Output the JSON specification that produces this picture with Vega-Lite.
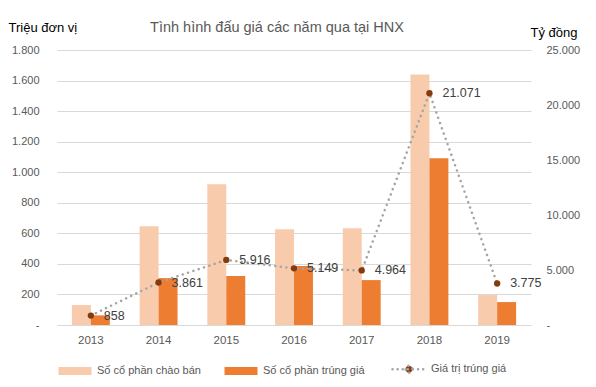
{
  "$schema": "https://vega.github.io/schema/vega-lite/v6.json",
  "autosize": "none",
  "width": 474,
  "height": 275,
  "padding": {"left": 57, "top": 50, "right": 65, "bottom": 62},
  "background": "white",
  "config": {
    "font": "Liberation Sans",
    "locale": {"number": {"decimal": ",", "thousands": ".", "grouping": [3], "currency": ["", ""]}},
    "view": {"stroke": null},
    "axis": {"labelFont": "Liberation Sans", "labelColor": "#595959", "labelFontSize": 11, "titleFont": "Liberation Sans"}
  },
  "title": {
    "text": "Tình hình đấu giá các năm qua tại HNX",
    "fontSize": 14.5,
    "fontWeight": "normal",
    "color": "#595959",
    "anchor": "middle",
    "frame": "group",
    "dx": -17,
    "offset": -14
  },
  "data": {
    "values": [
      {"year": "2013", "Số cổ phần chào bán": 131, "Số cổ phần trúng giá": 63, "gia_tri": 858},
      {"year": "2014", "Số cổ phần chào bán": 647, "Số cổ phần trúng giá": 307, "gia_tri": 3861},
      {"year": "2015", "Số cổ phần chào bán": 921, "Số cổ phần trúng giá": 320, "gia_tri": 5916},
      {"year": "2016", "Số cổ phần chào bán": 627, "Số cổ phần trúng giá": 386, "gia_tri": 5149},
      {"year": "2017", "Số cổ phần chào bán": 634, "Số cổ phần trúng giá": 294, "gia_tri": 4964},
      {"year": "2018", "Số cổ phần chào bán": 1640, "Số cổ phần trúng giá": 1092, "gia_tri": 21071},
      {"year": "2019", "Số cổ phần chào bán": 196, "Số cổ phần trúng giá": 150, "gia_tri": 3775}
    ]
  },
  "encoding": {
    "x": {
      "field": "year",
      "type": "nominal",
      "scale": {"paddingInner": 0.44, "paddingOuter": 0.22},
      "axis": {"title": null, "labelAngle": 0, "domain": false, "ticks": false, "labelPadding": 9, "labelFontSize": 11.5}
    }
  },
  "layer": [
    {
      "transform": [{"fold": ["Số cổ phần chào bán", "Số cổ phần trúng giá"], "as": ["series", "value"]}],
      "mark": {"type": "bar"},
      "encoding": {
        "xOffset": {"field": "series", "type": "nominal", "scale": {"paddingInner": 0, "paddingOuter": 0}},
        "y": {
          "field": "value",
          "type": "quantitative",
          "scale": {"domain": [0, 1800]},
          "axis": {
            "title": "Triệu đơn vị",
            "titleAngle": 0,
            "titleAlign": "left",
            "titleBaseline": "alphabetic",
            "titleX": -49,
            "titleY": -19,
            "titleFontSize": 13,
            "titleFontWeight": "normal",
            "titleColor": "#000000",
            "values": [0, 200, 400, 600, 800, 1000, 1200, 1400, 1600, 1800],
            "format": ",d",
            "labelExpr": "datum.value == 0 ? '-' : datum.label",
            "domain": false,
            "ticks": false,
            "labelPadding": 18,
            "gridColor": "#D9D9D9",
            "gridWidth": 1
          }
        },
        "color": {
          "field": "series",
          "type": "nominal",
          "scale": {
            "domain": ["Số cổ phần chào bán", "Số cổ phần trúng giá", "Giá trị trúng giá"],
            "range": ["#F8CBAD", "#ED7D31", "#843C0C"]
          },
          "legend": {
            "title": null,
            "orient": "bottom",
            "direction": "horizontal",
            "offset": 5,
            "columnPadding": 22,
            "labelFontSize": 11,
            "labelColor": "#595959",
            "labelFont": "Liberation Sans",
            "labelLimit": 200,
            "symbolSize": 1089,
            "symbolOpacity": 1,
            "encode": {
              "symbols": {
                "update": {
                  "shape": {"signal": "datum.value === 'Giá trị trúng giá' ? 'M-1,0H1M0.21,0A0.21,0.21,0,1,1,-0.21,0A0.21,0.21,0,1,1,0.21,0' : 'M-1,-0.24H1V0.24H-1Z'"},
                  "stroke": {"signal": "datum.value === 'Giá trị trúng giá' ? '#A5A5A5' : null"},
                  "strokeWidth": {"value": 2.5},
                  "strokeDash": {"value": [0.1, 5]},
                  "strokeCap": {"value": "round"}
                }
              }
            }
          }
        }
      }
    },
    {
      "encoding": {
        "y": {
          "field": "gia_tri",
          "type": "quantitative",
          "scale": {"domain": [0, 25000]},
          "axis": {
            "orient": "right",
            "title": "Tỷ đồng",
            "titleAngle": 0,
            "titleAlign": "left",
            "titleBaseline": "alphabetic",
            "titleX": -1,
            "titleY": -14,
            "titleFontSize": 13,
            "titleFontWeight": "normal",
            "titleColor": "#000000",
            "values": [0, 5000, 10000, 15000, 20000, 25000],
            "format": ",d",
            "labelExpr": "datum.value == 0 ? '-' : datum.label",
            "grid": false,
            "domain": false,
            "ticks": false,
            "labelPadding": 15
          }
        }
      },
      "layer": [
        {
          "mark": {"type": "line", "color": "#A5A5A5", "strokeWidth": 2.5, "strokeDash": [0.1, 5.5], "strokeCap": "round"}
        },
        {
          "mark": {"type": "point", "filled": true, "size": 40, "opacity": 1},
          "encoding": {"color": {"datum": "Giá trị trúng giá"}}
        },
        {
          "mark": {"type": "text", "align": "left", "baseline": "middle", "dx": 13, "fontSize": 12.5, "color": "#404040"},
          "encoding": {"text": {"field": "gia_tri", "type": "quantitative", "format": ",d"}}
        }
      ]
    }
  ],
  "resolve": {"scale": {"y": "independent"}}
}
